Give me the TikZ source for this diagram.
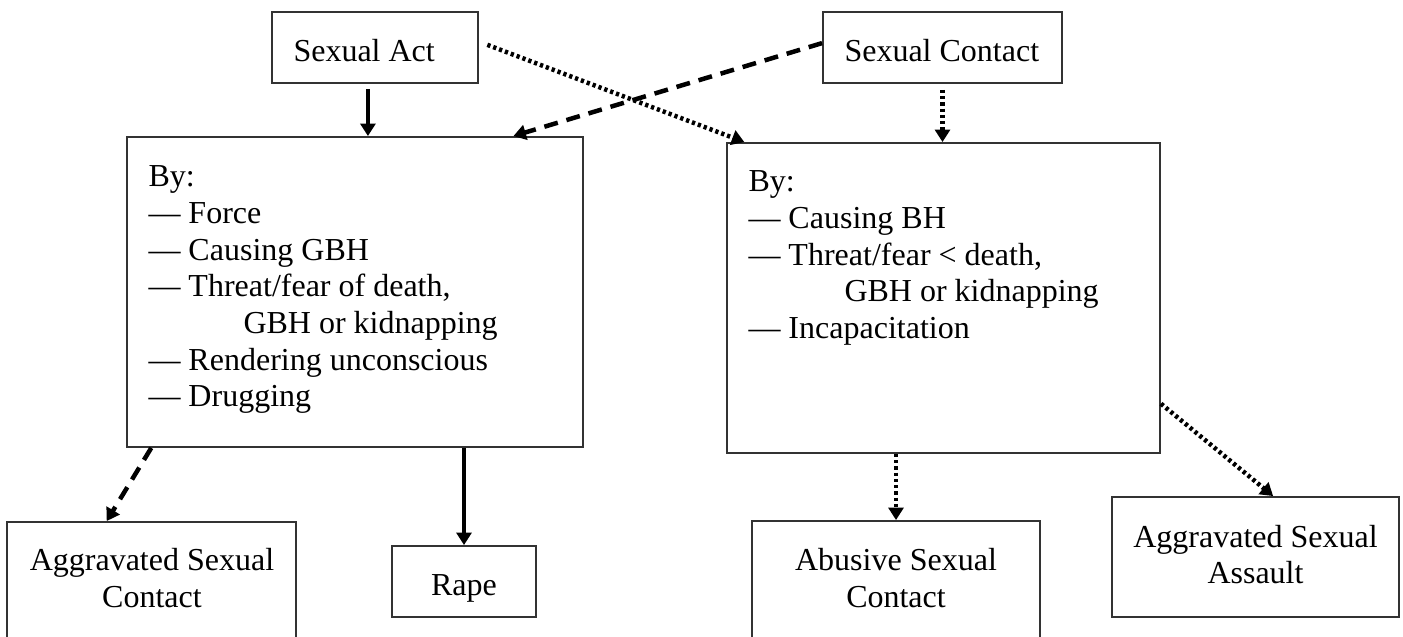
\documentclass[tikz,border=0pt]{standalone}
\usepackage{fontspec}
\setmainfont{Liberation Serif}
\usetikzlibrary{arrows.meta,calc,fit}
\begin{document}
\begin{tikzpicture}[x=0.4pt,y=-0.4pt,
 box/.style={draw=black!80, line width=0.75pt, inner sep=0pt},
 txt/.style={inner sep=0pt, font=\fontsize{12.8}{14.7}\selectfont},
 lt/.style={txt, anchor=base west},
 ct/.style={txt, anchor=base},
 conn/.style={line width=1.8pt, -{Triangle[length=5pt,width=6pt]}},
 solidc/.style={conn},
 dashc/.style={conn, dash pattern=on 5.6pt off 3.6pt},
 dotc/.style={conn, dash pattern=on 1.3pt off 1.2pt}]
\useasboundingbox (0,0) rectangle (1403,637);
\clip (0,0) rectangle (1403,637);
% boxes
\node[box, fit={(272,12)(478,83)}] (sa) {};
\node[box, fit={(823,12)(1062,83)}] (sc) {};
\node[box, fit={(127,137)(583,447)}] (lb) {};
\node[box, fit={(727,143)(1160,453)}] (rb) {};
\node[box, fit={(7,522)(296,660)}] (agc) {};
\node[box, fit={(392,546)(536,617)}] (rp) {};
\node[box, fit={(752,521)(1040,660)}] (abc) {};
\node[box, fit={(1112,497)(1399,617)}] (aga) {};
% texts
\node[lt] (saT) at (293,62) {Sexual Act};
\node[lt] (scT) at (844,62) {Sexual Contact};
\node[lt] (l1) at (148,187) {By:};
\node[lt] (l2) at (148,223.7) {\textemdash{} Force};
\node[lt] (l3) at (148,260.3) {\textemdash{} Causing GBH};
\node[lt] (l4) at (148,297) {\textemdash{} Threat/fear of death,};
\node[lt] (l5) at (243,333.7) {GBH or kidnapping};
\node[lt] (l6) at (148,370.3) {\textemdash{} Rendering unconscious};
\node[lt] (l7) at (148,407) {\textemdash{} Drugging};
\node[lt] (r1) at (748,192) {By:};
\node[lt] (r2) at (748,228.7) {\textemdash{} Causing BH};
\node[lt] (r3) at (748,265.3) {\textemdash{} Threat/fear \textless{} death,};
\node[lt] (r4) at (844,302) {GBH or kidnapping};
\node[lt] (r5) at (748,338.7) {\textemdash{} Incapacitation};
\node[ct] (agc1) at (152,570) {Aggravated Sexual};
\node[ct] (agc2) at (152,607) {Contact};
\node[ct] (rpT) at (464,595) {Rape};
\node[ct] (abc1) at (896,570) {Abusive Sexual};
\node[ct] (abc2) at (896,607) {Contact};
\node[ct] (aga1) at (1255.5,547) {Aggravated Sexual};
\node[ct] (aga2) at (1255.5,583) {Assault};
% attachment points
\coordinate (saB) at ($(sa.south west)!0.466!(sa.south east)$);
\coordinate (scW) at ($(sc.north west)!0.44!(sc.south west)$);
\coordinate (lbT) at ($(lb.north west)!0.846!(lb.north east)$);
\coordinate (saE) at ($(sa.north east)!0.42!(sa.south east)$);
\coordinate (rbT) at ($(rb.north west)!0.042!(rb.north east)$);
\coordinate (rbE) at ($(rb.north east)!0.839!(rb.south east)$);
\coordinate (agaT) at ($(aga.north west)!0.561!(aga.north east)$);
\coordinate (lbB) at ($(lb.south west)!0.055!(lb.south east)$);
\coordinate (agcT) at ($(agc.north west)!0.346!(agc.north east)$);
% connectors
\draw[solidc, shorten <=2pt] (saB) -- (saB |- lb.north);
\draw[dotc, shorten <=2.4pt] (sc.south) -- (sc.south |- rb.north);
\draw[dashc] (scW) -- (lbT);
\draw[dotc, shorten <=3.6pt] (saE) -- (rbT);
\draw[solidc] (rp.north |- lb.south) -- (rp.north);
\draw[dotc] (abc.north |- rb.south) -- (abc.north);
\draw[dotc] (rbE) -- (agaT);
\draw[dashc] (lbB) -- (agcT);
\end{tikzpicture}
\end{document}
